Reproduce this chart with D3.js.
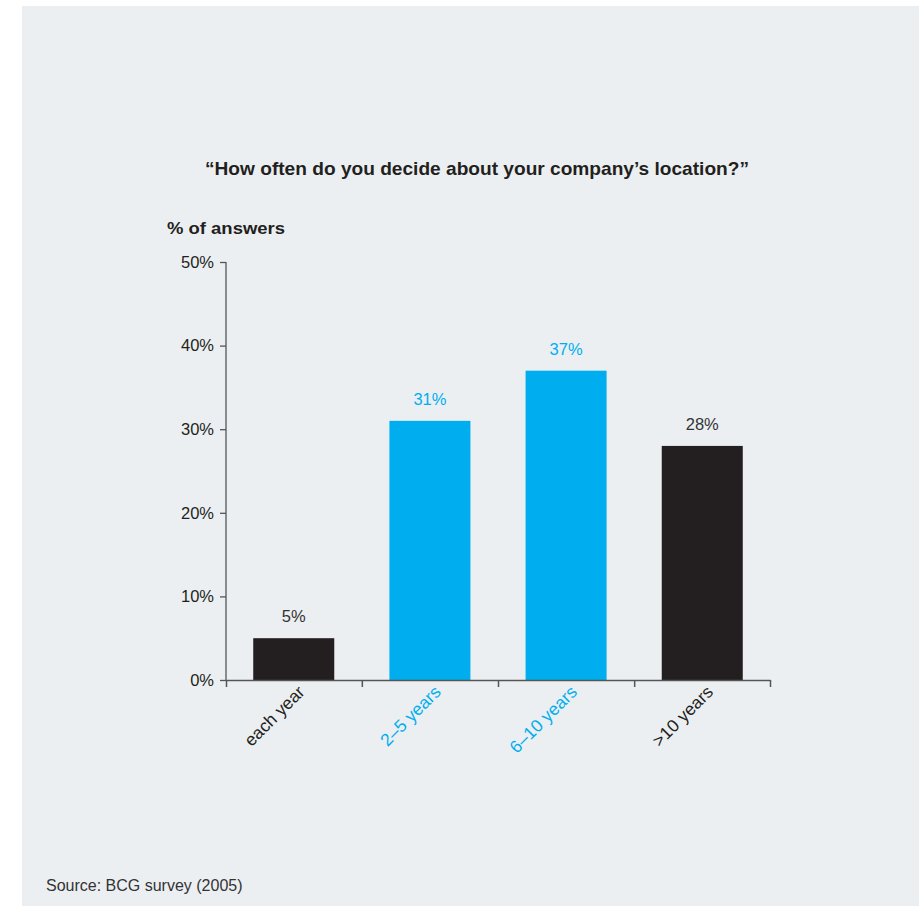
<!DOCTYPE html>
<html>
<head>
<meta charset="utf-8">
<script src="https://cdn.jsdelivr.net/npm/d3@7"></script>
<style>
  html, body { margin: 0; padding: 0; background: #ffffff; }
  svg { display: block; }
</style>
</head>
<body>
<script>
const categories = ["each year", "2–5 years", "6–10 years", ">10 years"];
const values = [5, 31, 37, 28];
const barColors = ["#231f20", "#00aeef", "#00aeef", "#231f20"];
const yTicks = [0, 10, 20, 30, 40, 50];
const title = "“How often do you decide about your company’s location?”";
const yTitle = "% of answers";
const source = "Source: BCG survey (2005)";

const W = 919, H = 907;
const svg = d3.select("body").append("svg").attr("width", W).attr("height", H);

svg.append("rect").attr("x", 22).attr("y", 6).attr("width", W - 22).attr("height", 900).attr("fill", "#eceff2");

const x = d3.scaleBand().domain(categories).range([226, 770]).paddingInner(0.405).paddingOuter(0.2);
const y = d3.scaleLinear().domain([0, 50]).range([680, 262]);

// bars
svg.append("g").selectAll("rect").data(values).join("rect")
  .attr("x", (d, i) => x(categories[i]))
  .attr("y", d => y(d))
  .attr("width", x.bandwidth())
  .attr("height", d => y(0) - y(d))
  .attr("fill", (d, i) => barColors[i]);

// value labels
svg.append("g").selectAll("text").data(values).join("text")
  .attr("x", (d, i) => x(categories[i]) + x.bandwidth() / 2)
  .attr("y", d => y(d) - 16)
  .attr("text-anchor", "middle")
  .attr("font-family", "Liberation Sans, Arial, sans-serif")
  .attr("font-size", 16.5)
  .attr("fill", (d, i) => i === 0 || i === 3 ? "#333333" : "#00aeef")
  .text(d => d + "%");

// y axis
const yAxis = d3.axisLeft(y).tickValues(yTicks).tickFormat(d => d + "%").tickSize(6).tickPadding(6);
const gy = svg.append("g").attr("transform", "translate(226,0)").call(yAxis);
gy.select(".domain").attr("stroke", "#555555").attr("stroke-width", 1.3).attr("d", "M0,262V680");
gy.selectAll(".tick line").attr("stroke", "#555555").attr("stroke-width", 1.3);
gy.selectAll(".tick text").attr("font-family", "Liberation Sans, Arial, sans-serif").attr("font-size", 16.5).attr("fill", "#231f20");

// x axis with ticks at band boundaries
const boundaries = categories.map(c => x(c) - x.step() * x.paddingInner() / 2).concat([770]);
const xb = d3.scaleLinear().domain([226, 770]).range([226, 770]);
const gx = svg.append("g").attr("transform", "translate(0,680)")
  .call(d3.axisBottom(xb).tickValues([226].concat(boundaries.slice(1))).tickFormat("").tickSize(7).tickSizeOuter(0));
gx.select(".domain").attr("stroke", "#555555").attr("stroke-width", 1.3);
gx.selectAll(".tick line").attr("stroke", "#555555").attr("stroke-width", 1.5);

// rotated category labels
svg.append("g").selectAll("text").data(categories).join("text")
  .attr("transform", d => `translate(${x(d) + x.bandwidth() / 2 + 12},${693}) rotate(-45)`)
  .attr("text-anchor", "end")
  .attr("font-family", "Liberation Sans, Arial, sans-serif")
  .attr("font-size", 17.5)
  .attr("fill", (d, i) => i === 0 || i === 3 ? "#231f20" : "#00aeef")
  .text(d => d);

// title
svg.append("text")
  .attr("x", 477).attr("y", 175)
  .attr("text-anchor", "middle")
  .attr("font-family", "Liberation Sans Narrow, Arial Narrow, Liberation Sans, sans-serif")
  .attr("font-weight", "bold").attr("font-size", 19)
  .attr("fill", "#231f20")
  .attr("textLength", 544).attr("lengthAdjust", "spacingAndGlyphs")
  .text(title);

svg.append("text")
  .attr("x", 167).attr("y", 234)
  .attr("font-family", "Liberation Sans Narrow, Arial Narrow, Liberation Sans, sans-serif")
  .attr("font-weight", "bold").attr("font-size", 16.5)
  .attr("fill", "#231f20")
  .attr("textLength", 118).attr("lengthAdjust", "spacingAndGlyphs")
  .text(yTitle);

svg.append("text")
  .attr("x", 46).attr("y", 891)
  .attr("font-family", "Liberation Sans, Arial, sans-serif")
  .attr("font-size", 16)
  .attr("fill", "#333333")
  .text(source);
</script>
</body>
</html>
